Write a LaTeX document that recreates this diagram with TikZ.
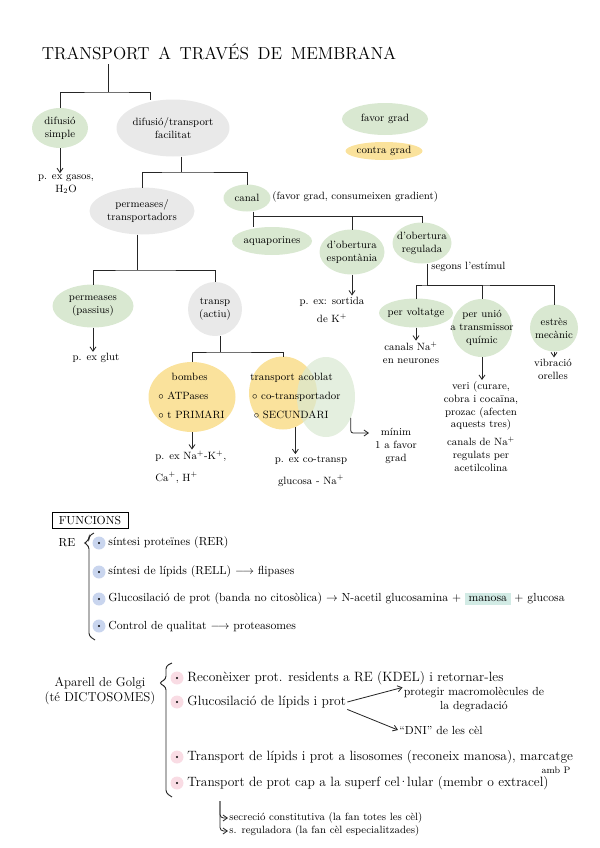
\documentclass[tikz,border=0pt]{standalone}
\usepackage{amssymb}
\usepackage{amsmath}
\usepackage{xcolor}
\usepackage{tikz}
\usetikzlibrary{arrows.meta,positioning,shapes.geometric}
\definecolor{memgreen}{HTML}{D9E8D1}
\definecolor{memgray}{HTML}{E9E9E9}
\definecolor{memyellow}{HTML}{FAE29C}
\definecolor{memblue}{HTML}{C9D5EE}
\definecolor{mempink}{HTML}{F9DCE4}
\definecolor{memteal}{HTML}{D2EBE5}
\colorlet{memink}{black!85}
\tikzset{
  memblob/.style={ellipse,inner sep=0pt,outer sep=0pt},
  memgreenblob/.style={memblob,fill=memgreen},
  memgrayblob/.style={memblob,fill=memgray},
  memyellowblob/.style={memblob,fill=memyellow},
  blobsize/.style 2 args={minimum width=#1*0.3mm,minimum height=#2*0.3mm},
  memtext/.style={font=\small,align=center,inner sep=1pt},
  memline/.style={font=\normalsize,anchor=west,inner sep=1pt},
  membigline/.style={memline,font=\fontsize{11.5}{13.5}\selectfont},
  memtree/.style={line width=0.8pt,memink},
  memdown/.style={-{Straight Barb[length=1.3mm,width=1.8mm]},line width=0.7pt,memink},
  membrace/.style={line width=0.8pt,memink,rounded corners=2.5pt},
  membullet/.style={circle,minimum size=3.9mm,inner sep=0pt,
                    path picture={\fill[black] (path picture bounding box.center) circle (0.35mm);}},
  memrebullet/.style={membullet,fill=memblue},
  memgobullet/.style={membullet,fill=mempink}
}

\begin{document}
\begin{tikzpicture}[
  x=0.3mm,y=-0.3mm,
  inblob/.style={label={[memtext]center:{#1}}}
]
  \useasboundingbox (0,0) rectangle (600,848);

  \node[font=\fontsize{14.8}{17}\selectfont] (title) at (219,52)
    {TRANSPORT\enspace A\enspace TRAVÉS\enspace DE\enspace MEMBRANA};
  \coordinate (t0) at (108,64);
  \coordinate (b0) at (108,92);

  \node[memgreenblob,blobsize={56}{40},inblob={difusió\\simple}] (simple) at (60,128) {};
  \node[memgrayblob,blobsize={113}{57},inblob={difusió/transport\\facilitat}] (facil) at (173,128) {};
  \draw[memtree] (t0) -- (b0);
  \draw[memtree] (simple) |- (b0) -| ([xshift=-6.9mm]facil.north);

  \node[memtext] (gasos) at (66,184) {p. ex gasos,\\H$_2$O};
  \draw[memdown] (simple) -- (simple |- gasos.north);

  \node[memgreenblob,blobsize={86}{32},inblob={favor grad}] (favor) at (385,119) {};
  \node[memyellowblob,blobsize={77}{18},inblob={contra grad}] (contra) at (384,151) {};

  \coordinate (b1) at (181,172);
  \node[memgrayblob,blobsize={105}{47},inblob={permeases/\\transportadors}] (perm) at (142,211) {};
  \node[memgreenblob,blobsize={47}{27},inblob={canal}] (canal) at (247,198) {};
  \node[memtext,anchor=west] (canalnote) at (271,197) {(favor grad, consumeixen gradient)};
  \draw[memtree] (facil.south -| b1) -- (b1);
  \draw[memtree] (perm) |- (b1) -| (canal);

  \coordinate (b2) at (253,216);
  \node[memgreenblob,blobsize={80}{28},inblob={aquaporines}] (aquap) at (272,241) {};
  \node[memgreenblob,blobsize={65}{45},inblob={d'obertura\\espontània}] (espont) at (352,252) {};
  \node[memgreenblob,blobsize={59}{41},inblob={d'obertura\\regulada}] (regul) at (422,243) {};
  \draw[memtree] (canal.south -| b2) -- (aquap.north -| b2);
  \draw[memtree] (b2) -| (espont) (b2) -| (regul);

  \node[memtext] (sortida) at (332,310) {p. ex: sortida\\[5pt]de K$^+$};
  \draw[memdown] (espont) -- (espont |- sortida.north);

  \node[memtext,anchor=west] (estimul) at (430,267) {segons l'estímul};
  \coordinate (b3) at (427,285);
  \node[memgreenblob,blobsize={74}{29},inblob={per voltatge}] (voltat) at (416,313) {};
  \node[memgreenblob,blobsize={60}{58},inblob={per unió\\a transmissor\\químic}] (unio) at (482,328) {};
  \node[memgreenblob,blobsize={48}{47},inblob={estrès\\mecànic}] (estres) at (554,328) {};
  \draw[memtree] (regul.south -| b3) -- (b3);
  \draw[memtree] (voltat) |- (b3) -| (estres) (b3) -| (unio);

  \node[memtext] (canalsna) at (411,353) {canals Na$^+$\\en neurones};
  \draw[memdown] (voltat) -- (voltat |- canalsna.north);
  \node[memtext] (veri) at (481,406) {veri (curare,\\cobra i cocaïna,\\prozac (afecten\\aquests tres)};
  \node[memtext] (acetil) at (481,454) {canals de Na$^+$\\regulats per\\acetilcolina};
  \draw[memdown] (unio) -- (unio |- veri.north);
  \node[memtext] (vibracio) at (553,369) {vibració\\orelles};
  \draw[memdown] (estres) -- (estres |- vibracio.north);

  \coordinate (b4) at (137,270);
  \node[memgreenblob,blobsize={81}{43},inblob={permeases\\(passius)}] (passius) at (93,306) {};
  \node[memgrayblob,blobsize={54}{54},inblob={transp\\(actiu)}] (actiu) at (215,309) {};
  \draw[memtree] (perm.south -| b4) -- (b4);
  \draw[memtree] (passius) |- (b4) -| (actiu);
  \node[memtext] (glut) at (96,358) {p. ex glut};
  \draw[memdown] (passius) -- (passius |- glut.north);

  \coordinate (b5) at (220,352);
  \node[memyellowblob,blobsize={87}{70}] (bombes) at (192,397) {};
  \node[memyellowblob,blobsize={68}{73}] (acoblat) at (283,393) {};
  \node[memgreenblob,blobsize={58}{80},fill opacity=0.7] (acoblatg) at (326,397) {};
  \node[memtext,align=left,anchor=west] (bombestext) at (157,396)
    {\hspace{4mm}bombes\\[5pt]$\circ$ ATPases\\[5pt]$\circ$ t PRIMARI};
  \node[memtext,align=left,anchor=west] (acoblattext) at (249,396)
    {transport acoblat\\[5pt]\,$\circ$ co-transportador\\[5pt]\,\,$\circ$ SECUNDARI};
  \draw[memtree] (actiu.south -| b5) -- (b5);
  \draw[memtree] (bombes) |- (b5) -| (acoblat);

  \node[memtext,align=left,anchor=west] (nak) at (154,467) {p. ex Na$^+$-K$^+$,\\[7pt]Ca$^+$, H$^+$};
  \draw[memdown] (bombes) -- (bombes |- nak.north);
  \node[memtext] (cotransp) at (311,471) {p. ex co-transp\\[8pt]glucosa - Na$^+$};
  \draw[memdown] (acoblat.290) -- (acoblat.290 |- cotransp.north);
  \coordinate (minimtip) at (369,433);
  \node[memtext] (minim) at (396,446) {mínim\\1 a favor\\grad};
  \draw[memdown,rounded corners=2pt] (acoblatg.-40) |- (minimtip);

  \node[draw,line width=0.6pt,inner sep=1pt,blobsize={76}{16}] (funcions) at (90,520) {FUNCIONS};
  \node[font=\normalsize] (re) at (67,543) {RE};
  \draw[membrace] (94,533) -- (89,536) -- (89,540) -- (84,543) -- (89,546) -- (89,636) -- (95,640);
  \node[memrebullet] (rebul1) at (99,543) {};
  \node[memrebullet] (rebul2) at (99,572) {};
  \node[memrebullet] (rebul3) at (99,599) {};
  \node[memrebullet] (rebul4) at (99,626) {};
  \node[memline] (resintprot) at (107,543) {síntesi proteïnes (RER)};
  \node[memline] (resintlip) at (107,572) {síntesi de lípids (RELL) $\longrightarrow$ flipases};
  \node[memline] (reglic) at (107,599)
    {Glucosilació de prot (banda no citosòlica) $\rightarrow$ N-acetil glucosamina + \colorbox{memteal}{manosa} + glucosa};
  \node[memline] (recontrol) at (107,626) {Control de qualitat $\longrightarrow$ proteasomes};

  \node[memtext,font=\fontsize{11}{13}\selectfont] (golgi) at (100,691) {Aparell de Golgi\\(té DICTOSOMES)};
  \draw[membrace] (172,663) -- (166,666) -- (166,679) -- (159,683) -- (166,687) -- (166,793) -- (172,797);
  \node[memgobullet] (gobul1) at (177,678) {};
  \node[memgobullet] (gobul2) at (177,702) {};
  \node[memgobullet] (gobul3) at (177,757) {};
  \node[memgobullet] (gobul4) at (177,783) {};
  \node[membigline] (goreco) at (186,678) {Reconèixer prot. residents a RE (KDEL) i retornar-les};
  \node[membigline] (goglic) at (186,702) {Glucosilació de lípids i prot};
  \node[memtext,font=\normalsize] (goprot) at (474,700) {protegir macromolècules de\\la degradació};
  \node[memline] (godni) at (398,730) {“DNI” de les cèl};
  \draw[memdown] (goglic.east) -- (goprot.170);
  \draw[memdown] (goglic.south east) -- (godni.west);
  \node[membigline] (golis) at (186,757) {Transport de lípids i prot a lisosomes (reconeix manosa), marcatge};
  \node[memtext,font=\footnotesize] (goambp) at (556,770) {amb P};
  \node[membigline] (gosup) at (186,783)
    {Transport de prot cap a la superf cel\kern-0.12em·\kern-0.12em lular (membr o extracel)};
  \coordinate (gohook) at (220,801);
  \node[memline,font=\small] (gosecr) at (228,818) {secreció constitutiva (la fan totes les cèl)};
  \node[memline,font=\small] (goreg) at (228,831) {s. reguladora (la fan cèl especialitzades)};
  \draw[memdown,rounded corners=3pt] (gohook) |- (gosecr.west);
  \draw[memdown,rounded corners=3pt] (gohook) |- (goreg.west);
\end{tikzpicture}
\end{document}
